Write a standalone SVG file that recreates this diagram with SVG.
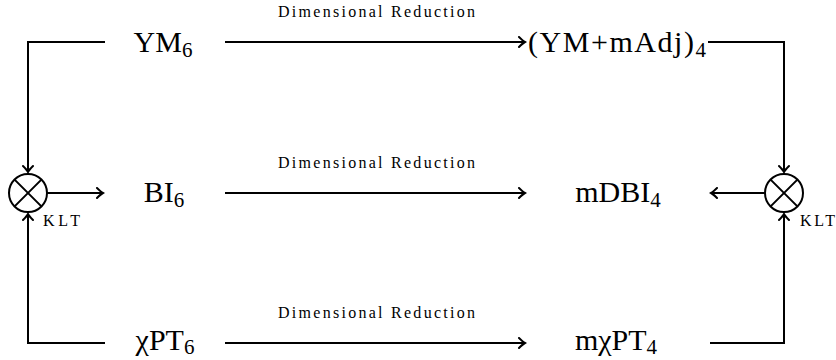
<svg xmlns="http://www.w3.org/2000/svg" width="836" height="360" viewBox="0 0 836 360">
<style>
.ln{fill:none;stroke:#000;stroke-width:2}
text{font-family:"Liberation Serif",serif;fill:#000}
.node{font-size:30px;text-anchor:middle}
.sub{font-size:21px}
.lbl{font-size:16px}
.klt{font-size:16px}
</style>
<defs>
<marker id="ah" viewBox="-8 -6 10 12" markerWidth="10" markerHeight="12" refX="0" refY="0" orient="auto" markerUnits="userSpaceOnUse">
<path d="M-6,-5 Q-2,-1 0,0 Q-2,1 -6,5" fill="none" stroke="#000" stroke-width="2" stroke-linecap="round"/>
</marker>
</defs>
<g id="connectors">
<path class="ln" d="M105,42 H28 V172" marker-end="url(#ah)"/>
<path class="ln" d="M105,343 H28 V214" marker-end="url(#ah)"/>
<path class="ln" d="M47,193 H103" marker-end="url(#ah)"/>
<path class="ln" d="M708,42 H784 V172" marker-end="url(#ah)"/>
<path class="ln" d="M710,343 H784 V214" marker-end="url(#ah)"/>
<path class="ln" d="M765,193 H711" marker-end="url(#ah)"/>
<path class="ln" d="M225,42 H525" marker-end="url(#ah)"/>
<path class="ln" d="M225,193 H525" marker-end="url(#ah)"/>
<path class="ln" d="M225,343 H525" marker-end="url(#ah)"/>
<text class="lbl" x="278" y="17" textLength="197" lengthAdjust="spacing">Dimensional Reduction</text>
<text class="lbl" x="278" y="168" textLength="197" lengthAdjust="spacing">Dimensional Reduction</text>
<text class="lbl" x="278" y="318" textLength="197" lengthAdjust="spacing">Dimensional Reduction</text>
</g>
<g id="ym6"><text class="node" x="163" y="52">YM<tspan class="sub" dy="5">6</tspan></text></g>
<g id="bi6"><text class="node" x="164" y="202">BI<tspan class="sub" dy="5">6</tspan></text></g>
<g id="chipt6"><text class="node" x="165" y="350">χPT<tspan class="sub" dy="4">6</tspan></text></g>
<g id="ymadj4"><text class="node" x="617" y="52" textLength="178" lengthAdjust="spacing">(YM+mAdj)<tspan class="sub" dy="5">4</tspan></text></g>
<g id="mdbi4"><text class="node" x="618" y="202">mDBI<tspan class="sub" dy="5">4</tspan></text></g>
<g id="mchipt4"><text class="node" x="616" y="350">mχPT<tspan class="sub" dy="4">4</tspan></text></g>
<g id="klt-left">
<circle class="ln" cx="28" cy="193" r="19"/>
<path class="ln" d="M14.6,179.6 L41.4,206.4 M41.4,179.6 L14.6,206.4"/>
<text class="klt" x="43" y="226" textLength="37" lengthAdjust="spacing">KLT</text>
</g>
<g id="klt-right">
<circle class="ln" cx="784" cy="193" r="19"/>
<path class="ln" d="M770.6,179.6 L797.4,206.4 M797.4,179.6 L770.6,206.4"/>
<text class="klt" x="800" y="226" textLength="35" lengthAdjust="spacing">KLT</text>
</g>
</svg>
